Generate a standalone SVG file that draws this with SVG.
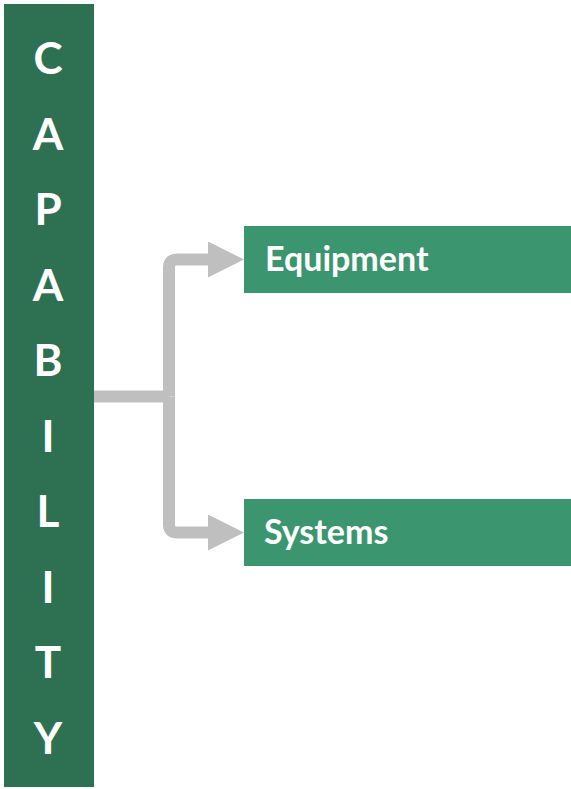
<svg xmlns="http://www.w3.org/2000/svg" width="571" height="789" viewBox="0 0 571 789">
<style>
.bar{fill:#2E7152}
.box{fill:#3B9670}
.lbl{font-family:Lato,"Open Sans","Liberation Sans",sans-serif;font-weight:bold;fill:#FFFFFF}
.letter{font-size:44px;text-anchor:middle}
.name{font-size:34px}
.conn{fill:none;stroke:#BFBFBF;stroke-width:12}
</style>
<defs>
<marker id="arr" markerUnits="userSpaceOnUse" markerWidth="36" markerHeight="36" refX="0" refY="18" orient="auto" viewBox="0 0 36 36">
<path d="M0,0 L36,18 L0,36 Z" fill="#BFBFBF"/>
</marker>
</defs>
<rect width="571" height="789" fill="#FFFFFF"/>
<g id="capability">
<rect class="bar" x="4" y="4" width="90" height="783"/>
<g class="lbl letter">
<text x="48" y="74">C</text>
<text x="48" y="149.5">A</text>
<text x="48" y="225">P</text>
<text x="48" y="300.5">A</text>
<text x="48" y="376">B</text>
<text x="48" y="451.5">I</text>
<text x="48" y="527">L</text>
<text x="48" y="602.5">I</text>
<text x="48" y="678">T</text>
<text x="48" y="753.5">Y</text>
</g>
</g>
<g id="connectors">
<path class="conn" d="M94,396.5 H169"/>
<path class="conn" d="M169,396.5 V267.5 Q169,259.5 177,259.5 H208" marker-end="url(#arr)"/>
<path class="conn" d="M169,396.5 V524.5 Q169,532.5 177,532.5 H208" marker-end="url(#arr)"/>
</g>
<g id="equipment">
<rect class="box" x="244" y="226" width="327" height="67"/>
<text class="lbl name" x="265" y="271">Equipment</text>
</g>
<g id="systems">
<rect class="box" x="244" y="499" width="327" height="67"/>
<text class="lbl name" x="264" y="544">Systems</text>
</g>
</svg>
